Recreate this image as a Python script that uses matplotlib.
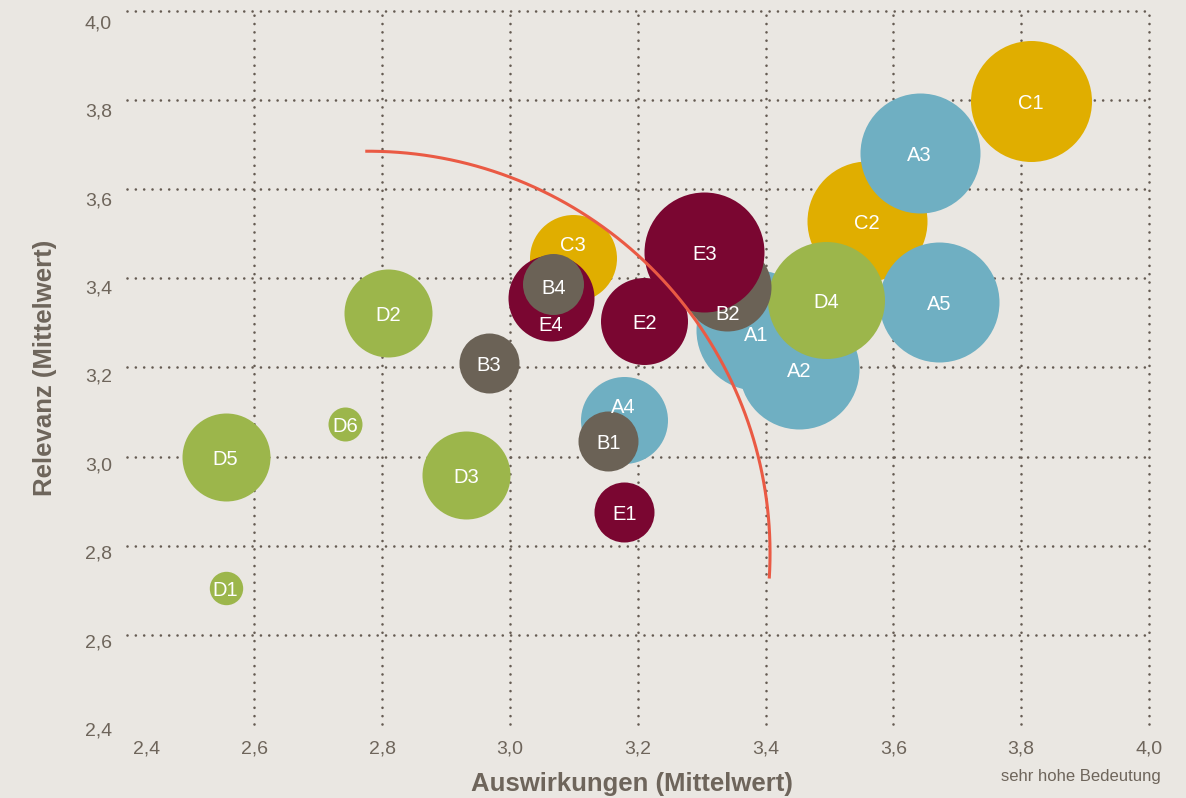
import matplotlib
matplotlib.use("Agg")
import matplotlib.pyplot as plt
import numpy as np
from matplotlib.transforms import offset_copy, blended_transform_factory

# ---------------- data ----------------
labels = ["A1", "A2", "A3", "A4", "A5",
          "B1", "B2", "B3", "B4",
          "C1", "C2", "C3",
          "D1", "D2", "D3", "D4", "D5", "D6",
          "E1", "E2", "E3", "E4"]
auswirkungen = [3.385, 3.453, 3.641, 3.178, 3.672,
                3.154, 3.340, 2.967, 3.068,
                3.815, 3.559, 3.099,
                2.555, 2.809, 2.931, 3.495, 2.555, 2.742,
                3.179, 3.210, 3.304, 3.064]
relevanz = [3.284, 3.196, 3.681, 3.081, 3.346,
            3.034, 3.380, 3.210, 3.387,
            3.798, 3.528, 3.445,
            2.705, 3.323, 2.958, 3.352, 3.000, 3.072,
            2.876, 3.303, 3.459, 3.356]
# bubble size (radius, px)
groesse = [60, 60, 60, 43.5, 60,
           30, 44, 30, 30.5,
           60.5, 60, 43.5,
           16.7, 44, 44, 58.5, 44, 17,
           30, 43.5, 60, 43]

x_ticks = [2.4, 2.6, 2.8, 3.0, 3.2, 3.4, 3.6, 3.8, 4.0]
y_ticks = [2.4, 2.6, 2.8, 3.0, 3.2, 3.4, 3.6, 3.8, 4.0]
x_ticklabels = ["2,4", "2,6", "2,8", "3,0", "3,2", "3,4", "3,6", "3,8", "4,0"]
y_ticklabels = ["2,4", "2,6", "2,8", "3,0", "3,2", "3,4", "3,6", "3,8", "4,0"]

# threshold arc (ellipse in data units)
arc_center = (2.778, 2.783)
arc_radii = (0.629, 0.902)
arc_angles = (-3.6, 90.4)

# ---------------- style ----------------
BG = "#EAE7E2"
TXT = "#6E655B"
GRID = "#655B52"
colors = {"A": "#6FAFC2", "B": "#6B6256", "C": "#E0AE00",
          "D": "#9CB64B", "E": "#7A0631"}
# drawing order (bottom -> top)
layer = ["C2", "A3", "C1", "A5", "A1", "A2", "D4", "B2", "E2", "E3",
         "C3", "E4", "B4", "A4", "B1", "E1",
         "D1", "D2", "D3", "D5", "D6", "B3"]
# label offsets in px (dx, dy with y downward)
label_off = {"C3": (0, -15), "E4": (0, 25), "B2": (0, 25), "A4": (0, -15),
             "A1": (0, 3), "B4": (0, 2)}
LABEL_SHIFT = 2.5  # px, visual centering

FONT = "Liberation Sans"
DPI = 100
fig = plt.figure(figsize=(11.86, 7.98), dpi=DPI, facecolor=BG)
W, H = 1186, 798
ax = fig.add_axes([126.5 / W, 1 - 724 / H, (1149 - 126.5) / W, (724 - 10.8) / H])
ax.set_facecolor(BG)
ax.set_xlim(2.4, 4.0)
ax.set_ylim(2.4, 4.0)
for s in ax.spines.values():
    s.set_visible(False)
ax.set_xticks([])
ax.set_yticks([])

# grid (dotted)
grid_kw = dict(color=GRID, linewidth=1.9, linestyle=(0, (0.01, 3.15)),
               zorder=1, dash_capstyle="round", clip_on=False)
for yv in y_ticks[1:]:
    ax.plot([2.4, 4.0], [yv, yv], **grid_kw)
for xv in x_ticks[1:]:
    ax.plot([xv, xv], [2.4, 4.0], **grid_kw)

# bubbles
idx = {l: i for i, l in enumerate(labels)}
for z, lab in enumerate(layer):
    i = idx[lab]
    r_pt = groesse[i] * 72 / DPI
    ax.scatter([auswirkungen[i]], [relevanz[i]], s=(2 * r_pt) ** 2,
               color=colors[lab[0]], linewidths=0, zorder=2 + z * 0.01)

# arc
t = np.radians(np.linspace(arc_angles[0], arc_angles[1], 300))
ax.plot(arc_center[0] + arc_radii[0] * np.cos(t),
        arc_center[1] + arc_radii[1] * np.sin(t),
        color="#EA5A44", linewidth=2.2, zorder=5, solid_capstyle="butt")

# bubble labels
for i, lab in enumerate(labels):
    dx, dy = label_off.get(lab, (0, 0))
    dy += LABEL_SHIFT
    ax.annotate(lab, (auswirkungen[i], relevanz[i]),
                xytext=(dx * 72 / DPI, -dy * 72 / DPI), textcoords="offset points",
                ha="center", va="center", color="white", fontsize=14.5,
                family=FONT, zorder=6)

# tick labels
bx = blended_transform_factory(ax.transData, ax.transAxes)
by = blended_transform_factory(ax.transAxes, ax.transData)
for xv, tl in zip(x_ticks, x_ticklabels):
    dxp = 20 if xv == 2.4 else 0
    tr = offset_copy(bx, fig=fig, x=dxp * 72 / DPI, y=-25 * 72 / DPI, units="points")
    ax.text(xv, 0, tl, transform=tr, ha="center", va="center",
            fontsize=14, color=TXT, family=FONT)
for yv, tl in zip(y_ticks, y_ticklabels):
    off = 7 + 6 * (yv - 2.4) / 1.6
    tr = offset_copy(by, fig=fig, x=-14.5 * 72 / DPI, y=-off * 72 / DPI, units="points")
    ax.text(0, yv, tl, transform=tr, ha="right", va="center",
            fontsize=14, color=TXT, family=FONT)

# axis titles
fig.text(632 / W, 1 - 784 / H, "Auswirkungen (Mittelwert)", ha="center", va="center",
         fontsize=18.5, fontweight="bold", color=TXT, family=FONT)
fig.text(45 / W, 1 - 368 / H, "Relevanz (Mittelwert)", ha="center", va="center",
         rotation=90, fontsize=18.5, fontweight="bold", color=TXT, family=FONT)
fig.text(1161 / W, 1 - 777 / H, "sehr hohe Bedeutung", ha="right", va="center",
         fontsize=12, color=TXT, family=FONT)

fig.savefig("out.png", dpi=DPI, facecolor=BG)
